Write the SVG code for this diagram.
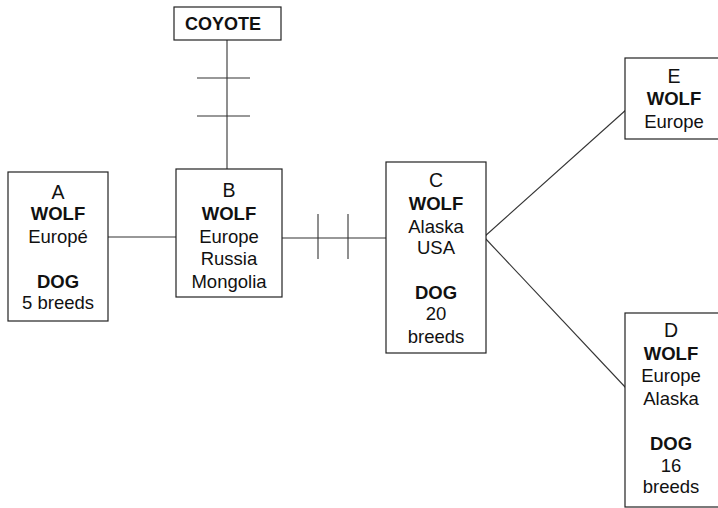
<svg xmlns="http://www.w3.org/2000/svg" width="718" height="508" viewBox="0 0 718 508">
<style>
.box{fill:#fff;stroke:#222;stroke-width:1.2}
.ln{stroke:#333;stroke-width:1.1;fill:none}
text{font-family:"Liberation Sans",Arial,sans-serif;font-size:18.5px;fill:#111;text-anchor:middle}
.b{font-weight:bold}
.t{font-size:19.5px}
.c{font-size:18px}
</style>
<rect width="718" height="508" fill="#fff"/>
<g id="connectors">
<line class="ln" x1="108" y1="237" x2="176" y2="237"/>
<line class="ln" x1="227" y1="40" x2="227" y2="169"/>
<line class="ln" x1="197" y1="78" x2="250" y2="78"/>
<line class="ln" x1="197" y1="116" x2="250" y2="116"/>
<line class="ln" x1="282" y1="238" x2="386" y2="238"/>
<line class="ln" x1="318" y1="214" x2="318" y2="259"/>
<line class="ln" x1="348" y1="214" x2="348" y2="259"/>
<line class="ln" x1="484" y1="237" x2="627" y2="109"/>
<line class="ln" x1="484" y1="237" x2="626" y2="388"/>
</g>
<g id="coyote">
<rect class="box" x="174" y="7" width="107" height="33"/>
<text class="b c" x="223" y="30">COYOTE</text>
</g>
<g id="nodeA">
<rect class="box" x="8" y="172" width="100" height="149"/>
<text class="t" x="58" y="199">A</text>
<text class="b" x="58" y="220">WOLF</text>
<text x="58" y="243">Europé</text>
<text class="b" x="58" y="288">DOG</text>
<text x="58" y="309">5 breeds</text>
</g>
<g id="nodeB">
<rect class="box" x="176" y="169" width="106" height="128"/>
<text class="t" x="229" y="197">B</text>
<text class="b" x="229" y="220">WOLF</text>
<text x="229" y="243">Europe</text>
<text x="229" y="265">Russia</text>
<text x="229" y="288">Mongolia</text>
</g>
<g id="nodeC">
<rect class="box" x="386" y="162" width="100" height="191"/>
<text class="t" x="436" y="187">C</text>
<text class="b" x="436" y="210">WOLF</text>
<text x="436" y="233">Alaska</text>
<text x="436" y="254">USA</text>
<text class="b" x="436" y="299">DOG</text>
<text x="436" y="320">20</text>
<text x="436" y="343">breeds</text>
</g>
<g id="nodeE">
<rect class="box" x="625" y="58" width="100" height="81"/>
<text class="t" x="674" y="83">E</text>
<text class="b" x="674" y="105">WOLF</text>
<text x="674" y="128">Europe</text>
</g>
<g id="nodeD">
<rect class="box" x="625" y="313" width="100" height="194"/>
<text class="t" x="671" y="337">D</text>
<text class="b" x="671" y="360">WOLF</text>
<text x="671" y="382">Europe</text>
<text x="671" y="405">Alaska</text>
<text class="b" x="671" y="450">DOG</text>
<text x="671" y="472">16</text>
<text x="671" y="493">breeds</text>
</g>
</svg>
